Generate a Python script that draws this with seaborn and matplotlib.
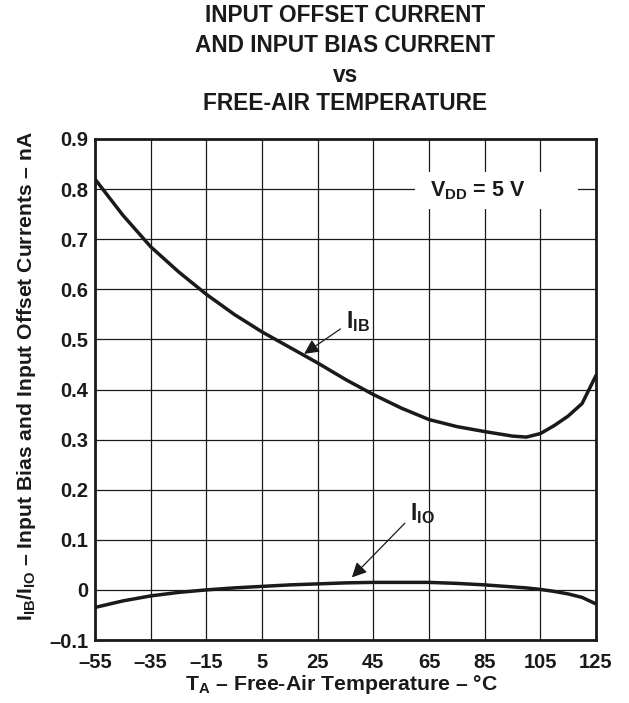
import matplotlib
matplotlib.use("Agg")
import matplotlib.pyplot as plt
import seaborn as sns
import pandas as pd
from matplotlib.patches import Rectangle

temps = [-55, -45, -35, -25, -15, -5, 5, 15, 25, 35, 45, 55, 65, 75, 85, 95, 100, 105, 110, 115, 120, 125]
i_ib = [0.82, 0.748, 0.685, 0.635, 0.59, 0.55, 0.515, 0.484, 0.453, 0.42, 0.39, 0.363, 0.34, 0.326, 0.316,
        0.307, 0.305, 0.312, 0.328, 0.347, 0.372, 0.428]
i_io = [-0.035, -0.022, -0.012, -0.005, 0.0, 0.004, 0.007, 0.010, 0.012, 0.014, 0.015, 0.015, 0.015, 0.013,
        0.010, 0.006, 0.004, 0.001, -0.003, -0.008, -0.015, -0.028]
x_ticks = [-55, -35, -15, 5, 25, 45, 65, 85, 105, 125]
x_tick_labels = ["–55", "–35", "–15", "5", "25", "45", "65", "85", "105", "125"]
y_ticks = [-0.1, 0.0, 0.1, 0.2, 0.3, 0.4, 0.5, 0.6, 0.7, 0.8, 0.9]
y_tick_labels = ["–0.1", "0", "0.1", "0.2", "0.3", "0.4", "0.5", "0.6", "0.7", "0.8", "0.9"]

sns.set_theme(style="white")
plt.rcParams['font.family'] = ['Liberation Sans', 'DejaVu Sans']
plt.rcParams['font.weight'] = 'bold'
plt.rcParams['mathtext.fontset'] = 'custom'
plt.rcParams['mathtext.rm'] = 'Liberation Sans:bold'
plt.rcParams['mathtext.bf'] = 'Liberation Sans:bold'
plt.rcParams['mathtext.it'] = 'Liberation Sans:bold'

df = pd.DataFrame({"T": temps * 2, "I": i_ib + i_io,
                   "series": ["IB"] * len(temps) + ["IO"] * len(temps)})

INK = "#1a1a1a"
fig = plt.figure(figsize=(6.29, 7.03), dpi=100)
ax = fig.add_axes([95 / 629, 1 - 640 / 703, (596 - 95) / 629, (640 - 139) / 703])

sns.lineplot(data=df, x="T", y="I", units="series", estimator=None, color=INK,
             linewidth=2.5, ax=ax, zorder=5, legend=False)

ax.set_xlim(-55, 125)
ax.set_ylim(-0.1, 0.9)
ax.set_xticks(x_ticks)
ax.set_xticklabels(x_tick_labels, fontsize=14.5, fontweight='bold')
ax.set_yticks(y_ticks)
ax.set_yticklabels(y_tick_labels, fontsize=14.5, fontweight='bold')
ax.tick_params(axis='x', length=0, pad=9, colors=INK)
ax.tick_params(axis='y', length=0, pad=5, colors=INK)
ax.grid(True, color=INK, linewidth=0.9)
for s in ax.spines.values():
    s.set_linewidth(2.0)
    s.set_color(INK)
    s.set_visible(True)
ax.set_xlabel("")
ax.set_ylabel("")

# V_DD label with white background
ax.add_patch(Rectangle((60.0, 0.76), 58.4, 0.074, facecolor="white", edgecolor="none", zorder=3))
ax.text(82.5, 0.797, r"$\mathregular{V_{DD}}$ = 5 V", fontsize=15.5, fontweight='bold',
        ha="center", va="center", zorder=6, color=INK)

# annotations
ax.annotate("", xy=(19.3, 0.468), xytext=(34.0, 0.524),
            arrowprops=dict(arrowstyle="-|>", color=INK, lw=0.9, mutation_scale=22), zorder=6)
ax.text(35.3, 0.535, r"$\mathregular{I_{IB}}$", fontsize=16.5, fontweight='bold',
        ha="left", va="center", color=INK)
ax.annotate("", xy=(36.6, 0.021), xytext=(57.0, 0.137),
            arrowprops=dict(arrowstyle="-|>", color=INK, lw=0.9, mutation_scale=22), zorder=6)
ax.text(58.3, 0.152, r"$\mathregular{I_{IO}}$", fontsize=16.5, fontweight='bold',
        ha="left", va="center", color=INK)

fig.text(342 / 629, 1 - 684 / 703, r"$\mathregular{T_A}$ – Free-Air Temperature – °C",
         fontsize=15.3, fontweight='bold', ha="center", va="center", color=INK)
fig.text(27 / 629, 1 - 376 / 703,
         r"$\mathregular{I_{IB}/I_{IO}}$ – Input Bias and Input Offset Currents – nA",
         fontsize=15.2, fontweight='bold', ha="center", va="center", rotation=90, color=INK)

titles = ["INPUT OFFSET CURRENT", "AND INPUT BIAS CURRENT", "vs", "FREE-AIR TEMPERATURE"]
title_y = [15, 45, 75, 104]
for t, yy in zip(titles, title_y):
    fig.text(345 / 629, 1 - yy / 703, t, fontsize=16.3, fontweight='bold',
             ha="center", va="center", color=INK)

fig.savefig("out.png", dpi=100, facecolor="white")
